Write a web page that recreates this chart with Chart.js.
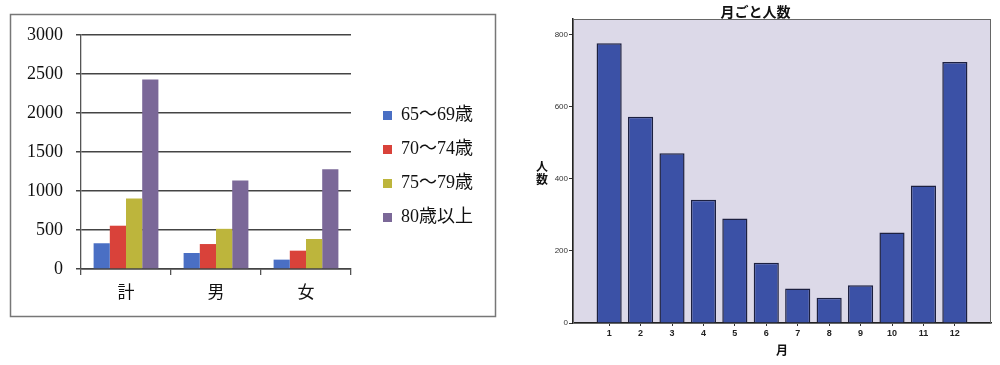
<!DOCTYPE html>
<html><head><meta charset="utf-8">
<script src="https://cdn.jsdelivr.net/npm/chart.js@4"></script>
<style>
body{margin:0;background:#fff;width:1000px;height:365px;overflow:hidden;position:relative}
#c1{position:absolute;left:0;top:0}
#c2{position:absolute;left:520px;top:0}
</style></head><body>
<canvas id="c1" width="500" height="330"></canvas>
<canvas id="c2" width="480" height="365"></canvas>
<script>
// left chart: age groups
const groups = ['計', '男', '女'];
const ageLabels = ['65～69歳', '70～74歳', '75～79歳', '80歳以上'];
const age65 = [330, 205, 120];
const age70 = [555, 320, 235];
const age75 = [905, 515, 385];
const age80 = [2430, 1135, 1280];

// right chart: people per month
const months = [1, 2, 3, 4, 5, 6, 7, 8, 9, 10, 11, 12];
const monthCounts = [776, 572, 471, 342, 290, 167, 96, 70, 105, 251, 381, 724];
const monthTicks = [0, 200, 400, 600, 800];

const serif = "'Liberation Serif', 'DejaVu Serif', 'Noto Sans CJK JP', serif";
const sans = "'Liberation Sans', Arial, 'Noto Sans CJK JP', sans-serif";

const outerFrame = {
  id: 'outerFrame',
  afterLayout(chart) {
    // move the legend a bit away from the plot and up
    const lg = chart.legend;
    lg.left += 16; lg.right += 16;
    lg.top -= 16; lg.bottom -= 16;
  },
  beforeDraw(chart) {
    const c = chart.ctx;
    c.save();
    c.fillStyle = '#fff';
    c.fillRect(0, 0, chart.width, chart.height);
    c.strokeStyle = '#777';
    c.lineWidth = 1.5;
    c.strokeRect(10.5, 14.5, 485, 302);
    c.restore();
  }
};

new Chart(document.getElementById('c1'), {
  type: 'bar',
  data: {
    labels: groups,
    datasets: [
      { label: ageLabels[0], data: age65, backgroundColor: '#4a6fc4' },
      { label: ageLabels[1], data: age70, backgroundColor: '#d9423a' },
      { label: ageLabels[2], data: age75, backgroundColor: '#bdb53c' },
      { label: ageLabels[3], data: age80, backgroundColor: '#7b6898' }
    ]
  },
  options: {
    responsive: false,
    animation: false,
    categoryPercentage: 0.72,
    barPercentage: 1.0,
    layout: { padding: { top: 35, right: 33, left: 0, bottom: 0 } },
    plugins: {
      legend: {
        position: 'right',
        labels: {
          boxWidth: 9, boxHeight: 9, padding: 16, color: '#111',
          font: { family: serif, size: 18 }
        }
      },
      tooltip: { enabled: false }
    },
    scales: {
      x: {
        afterFit: s => { s.height = 61; },
        grid: { display: true, drawOnChartArea: false, tickLength: 6, color: '#555', lineWidth: 1.3 },
        border: { color: '#444', width: 1.5 },
        ticks: { padding: 8, color: '#111', font: { family: serif, size: 17 } }
      },
      y: {
        min: 0, max: 3000,
        afterFit: s => { s.width = 81; },
        ticks: { stepSize: 500, padding: 13, color: '#111', font: { family: serif, size: 18 }, callback: v => String(v) },
        grid: { color: '#444', lineWidth: 1.5, tickLength: 5 },
        border: { color: '#555', width: 1.3 }
      }
    }
  },
  plugins: [outerFrame]
});

const plotFrame = {
  id: 'plotFrame',
  beforeDraw(chart) {
    const c = chart.ctx, a = chart.chartArea;
    c.save();
    c.fillStyle = '#fff';
    c.fillRect(0, 0, chart.width, chart.height);
    c.fillStyle = '#dcd9e8';
    c.fillRect(a.left, a.top, a.right - a.left, a.bottom - a.top);
    c.restore();
  },
  afterDraw(chart) {
    const c = chart.ctx, a = chart.chartArea;
    c.save();
    c.strokeStyle = '#666';
    c.lineWidth = 1;
    c.strokeRect(a.left + 0.5, a.top + 0.5, a.right - a.left - 1, a.bottom - a.top);
    c.fillStyle = '#111';
    c.font = "bold 12px 'Noto Sans CJK JP', sans-serif";
    c.textAlign = 'center';
    c.textBaseline = 'middle';
    c.fillText('人', 22, 166);
    c.fillText('数', 22, 179);
    c.restore();
  }
};

new Chart(document.getElementById('c2'), {
  type: 'bar',
  data: {
    datasets: [{
      label: '人数',
      data: monthCounts.map((v, i) => ({ x: months[i], y: v })),
      backgroundColor: '#3b51a6',
      borderColor: '#1c2040',
      borderWidth: 1.5,
      barPercentage: 0.8,
      categoryPercentage: 1.0
    }]
  },
  options: {
    responsive: false,
    animation: false,
    layout: { padding: { top: 0, right: 9, left: 0, bottom: 0 } },
    plugins: {
      legend: { display: false },
      tooltip: { enabled: false },
      title: {
        display: true, text: '月ごと人数', color: '#111',
        font: { family: "'Noto Sans CJK JP', sans-serif", size: 14, weight: 'bold', lineHeight: 1 },
        padding: { top: 5, bottom: 0 }
      }
    },
    scales: {
      x: {
        type: 'linear', min: -0.15, max: 13.15, offset: false,
        afterBuildTicks: s => { s.ticks = months.map(v => ({ value: v })); },
        afterFit: s => { s.height = 42; },
        grid: { drawOnChartArea: false, offset: false, tickLength: 3, color: '#333' },
        border: { color: '#222', width: 1.5 },
        ticks: { padding: 2, color: '#222', font: { family: sans, size: 9, weight: 'bold' } },
        title: {
          display: true, text: '月', color: '#111',
          font: { family: "'Noto Sans CJK JP', sans-serif", size: 12, weight: 'bold' },
          padding: { top: 0, bottom: 7 }
        }
      },
      y: {
        min: 0, max: 843,
        afterBuildTicks: s => { s.ticks = monthTicks.map(v => ({ value: v })); },
        afterFit: s => { s.width = 53; },
        grid: { drawOnChartArea: false, tickLength: 4, color: '#333' },
        border: { color: '#222', width: 1.5 },
        ticks: { padding: 1, color: '#333', font: { family: sans, size: 8 } }
      }
    }
  },
  plugins: [plotFrame]
});
</script>
</body></html>
